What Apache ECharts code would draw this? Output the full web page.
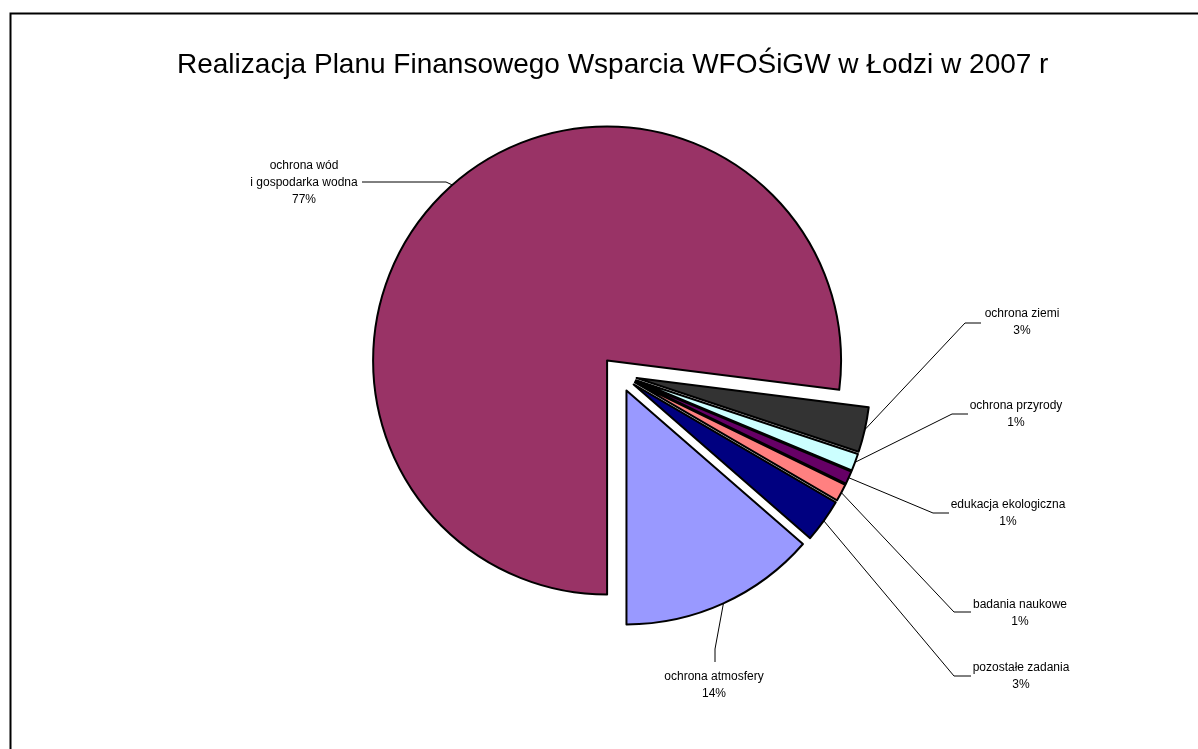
<!DOCTYPE html>
<html>
<head>
<meta charset="utf-8">
<script src="https://cdn.jsdelivr.net/npm/echarts@6/dist/echarts.min.js"></script>
<style>
html,body{margin:0;padding:0;background:#fff;}
#chart{width:1198px;height:749px;}
</style>
</head>
<body>
<div id="chart"></div>
<script>
var titleText = 'Realizacja Planu Finansowego Wsparcia WFOŚiGW w Łodzi w 2007 r';
var categories = ['ochrona wód\ni gospodarka wodna', 'ochrona ziemi', 'ochrona przyrody', 'edukacja ekologiczna', 'badania naukowe', 'pozostałe zadania', 'ochrona atmosfery'];
var values = [77.0, 3.1, 1.2, 0.9, 1.2, 3.0, 13.6];
var colors = ['#993366', '#333333', '#CCFFFF', '#660066', '#FF8080', '#000080', '#9999FF'];

// label placement (centre of text block) and leader line elbows
var labelPlace = [
  {x: 304, y: 183, elbow: [446, 182], end: [362, 182]},
  {x: 1022, y: 322, elbow: [965, 323], end: [981, 323]},
  {x: 1016, y: 414, elbow: [952, 414], end: [968, 414]},
  {x: 1008, y: 513, elbow: [933, 513], end: [949, 513]},
  {x: 1020, y: 613, elbow: [954, 612], end: [971, 612]},
  {x: 1021, y: 676, elbow: [954, 676], end: [971, 676]},
  {x: 714, y: 685, elbow: [715, 649], end: [715, 662]}
];

var R = 234, OFFSET = 18;
var chart = echarts.init(document.getElementById('chart'), null, {renderer: 'canvas'});
var pieData = categories.map(function (c, i) {
  return {name: c, value: values[i], selected: true, itemStyle: {color: colors[i]}};
});
var labelData = categories.map(function (c, i) {
  return {name: c, value: values[i]};
});

chart.setOption({
  animation: false,
  backgroundColor: '#fff',
  title: {
    text: titleText,
    left: 172,
    top: 46,
    textStyle: {fontFamily: 'Liberation Sans', fontSize: 28, fontWeight: 'normal', color: '#000'}
  },
  graphic: [{
    type: 'rect', left: 8, top: 11, silent: true,
    shape: {width: 1200, height: 760},
    style: {fill: 'none', stroke: '#000', lineWidth: 2}
  }],
  series: [{
    type: 'pie',
    center: [619, 374],
    radius: [0, R],
    startAngle: -90,
    clockwise: true,
    selectedMode: 'multiple',
    selectedOffset: OFFSET,
    silent: true,
    itemStyle: {borderColor: '#000', borderWidth: 2},
    label: {show: false},
    labelLine: {show: false},
    emphasis: {disabled: true},
    data: pieData
  }, {
    // invisible twin reaching the exploded rim, carries the labels
    type: 'pie',
    center: [619, 374],
    radius: [0, R + OFFSET],
    startAngle: -90,
    clockwise: true,
    silent: true,
    percentPrecision: 0,
    avoidLabelOverlap: false,
    itemStyle: {color: 'rgba(0,0,0,0)', borderWidth: 0},
    label: {
      show: true,
      formatter: '{b}\n{d}%',
      fontFamily: 'Liberation Sans',
      fontSize: 12,
      lineHeight: 17,
      color: '#000',
      align: 'center'
    },
    labelLine: {show: true, lineStyle: {color: '#000', width: 1}},
    emphasis: {disabled: true},
    labelLayout: function (p) {
      var L = labelPlace[p.dataIndex];
      var pts = p.labelLinePoints;
      var start = pts ? pts[0] : L.elbow;
      return {
        x: L.x, y: L.y, align: 'center', verticalAlign: 'middle',
        labelLinePoints: [start, L.elbow, L.end]
      };
    },
    data: labelData
  }]
});
</script>
</body>
</html>
